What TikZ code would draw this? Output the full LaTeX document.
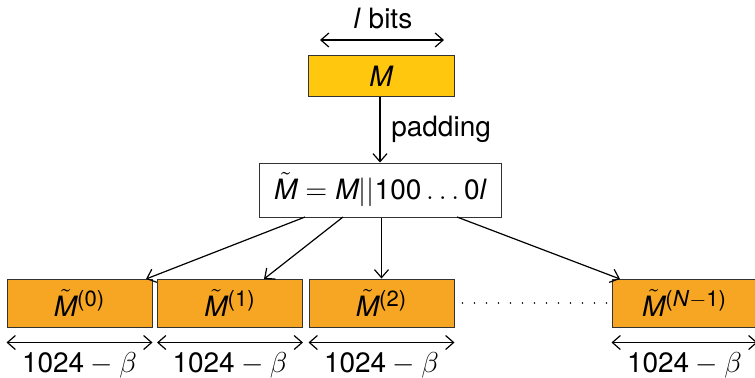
\documentclass[tikz,border=0pt]{standalone}
\usepackage{fontspec}
\setmainfont{TeX Gyre Heros}
\usetikzlibrary{arrows.meta}
\definecolor{gold}{RGB}{255,199,14}
\definecolor{orng}{RGB}{246,166,35}
\newcommand{\supx}[1]{^{\mbox{\fontsize{11}{12}\selectfont #1}}}
\begin{document}
\begin{tikzpicture}[x=0.5pt,y=-0.5pt,
  font=\fontsize{14}{17}\selectfont,
  blk/.style={draw=black!80, line width=0.5pt, minimum width=72.5pt, minimum height=24pt, inner sep=0pt, fill=orng},
  arr/.style={-{Straight Barb[length=4pt,width=7pt]}, line width=0.6pt},
  dim/.style={{Straight Barb[length=4pt,width=7pt]}-{Straight Barb[length=4pt,width=7pt]}, line width=0.6pt}]
\useasboundingbox (0,0) rectangle (755,377);
% top
\node (bits) at (383,18) {\textit{l} bits};
\coordinate (bl) at (320,40);
\coordinate (br) at (444,40);
\draw[dim] (bl) -- (br);
\node[blk, fill=gold, minimum width=73pt, minimum height=20.5pt] (M) at (381,76) {$\mathit{M}$};
\node[draw=black!80, line width=0.5pt, minimum width=121pt, minimum height=27pt, inner sep=0pt, fill=white] (Mt) at (380,190) {$\tilde{\mathit{M}} = \mathit{M}||\mathrm{100}\ldots\mathrm{0}\mathit{l}$};
\draw[arr] (M.south -| Mt.north) -- node[right, xshift=2pt] (pad) {padding} (Mt.north);
% blocks
\node[blk] (b0) at (79.5,303) {$\tilde{\mathit{M}}\supx{(0)}$};
\node[blk] (b1) at (230,303) {$\tilde{\mathit{M}}\supx{(1)}$};
\node[blk] (b2) at (381.5,303) {$\tilde{\mathit{M}}\supx{(2)}$};
\node[blk] (b3) at (684.5,303) {$\tilde{\mathit{M}}\supx{(\textit{N}$-$1)}$};
\draw[line width=0.9pt, line cap=round, dash pattern=on 0pt off 6pt] ([xshift=4pt]b2.east) -- (b3.west);
% fan arrows
\coordinate (s0) at (305,217);
\coordinate (s1) at (343,217);
\coordinate (s3) at (457,217);
\coordinate (e0) at (146,279);
\coordinate (e1) at (264,279);
\coordinate (e3) at (620,279);
\draw[arr] (s0) -- (e0);
\draw[arr] (s1) -- (e1);
\draw[arr] (Mt.south -| b2.north) -- (b2.north);
\draw[arr] (s3) -- (e3);
% dimensions
\foreach \b in {b0,b1,b2,b3}{
  \draw[dim] ([yshift=-7.5pt]\b.south west) -- ([yshift=-7.5pt]\b.south east);
  \node at ([yshift=-19pt]\b.south) {$\mathrm{1024}-\beta$};
}
\end{tikzpicture}
\end{document}
